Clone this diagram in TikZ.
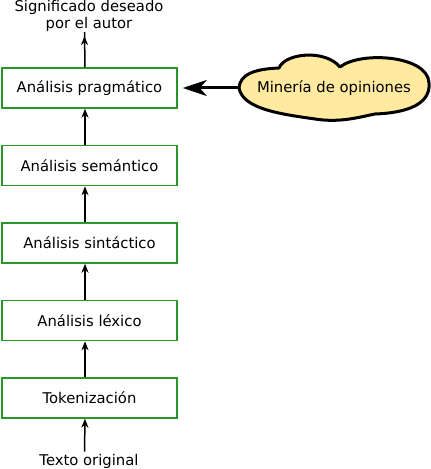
\documentclass[tikz,border=0pt]{standalone}
\usepackage{fontspec}
\setmainfont{DejaVu Sans}
\usetikzlibrary{positioning,arrows.meta}

\definecolor{boxgreen}{RGB}{40,150,40}
\definecolor{cloudyellow}{RGB}{255,234,160}

\tikzset{
  etapa/.style = {draw=boxgreen, line width=1.5pt, minimum width=175pt,
                  minimum height=40pt, inner sep=0pt},
  flecha/.style = {line width=1.5pt, -{Stealth[length=9pt,width=7pt]}},
  nube/.style = {draw=black, fill=cloudyellow, line width=3pt, line join=round},
  gruesa/.style = {line width=3pt, -{Stealth[length=24pt,width=16pt,inset=7pt]}}
}

\begin{document}
\begin{tikzpicture}[x=1pt, y=1pt, font=\fontsize{14.8}{17.5}\selectfont]
        \useasboundingbox (0,0) rectangle (431,469);

        % etapas de abajo hacia arriba
        \node[etapa] (tok) at (89.5,71) {Tokenización};
        \node[etapa, above=36pt of tok] (lex) {Análisis léxico};
        \node[etapa, above=36pt of lex] (sin) {Análisis sintáctico};
        \node[etapa, above=36pt of sin] (sem) {Análisis semántico};
        \node[etapa, above=36pt of sem] (pra) {Análisis pragmático};

        % entrada y salida
        \node[inner sep=0pt] (orig) at (89,8) {Texto original};
        \node[inner sep=0pt, align=center] (sig) at (89,453) {Significado deseado\\por el autor};

        \draw[flecha] ([xshift=-4.5pt]orig.north) ++(0,2) -- ([xshift=-4.5pt]tok.south);
        \foreach \a/\b in {tok/lex, lex/sin, sin/sem, sem/pra} {
          \draw[flecha] ([xshift=-4.5pt]\a.north) -- ([xshift=-4.5pt]\b.south);
        }
        \draw[flecha] ([xshift=-4.5pt]pra.north) -- ([xshift=-4.5pt]sig.south) ++(0,-4);

        % nube
        \coordinate (nubeizq) at (239,381);
        \draw[nube] (nubeizq) .. controls (240,395) and (255,400) .. (279,401)
          .. controls (285,416) and (325,420) .. (340,402)
          .. controls (360,418) and (428,414) .. (429,386)
          .. controls (431,364) and (405,356) .. (375,355)
          .. controls (360,352) and (340,346) .. (315,350)
          .. controls (280,355) and (243,360) .. cycle;
        \node (min) at (334,381) {Minería de opiniones};
        \draw[gruesa] (nubeizq) -- ([xshift=5pt]pra.east);
\end{tikzpicture}
\end{document}
